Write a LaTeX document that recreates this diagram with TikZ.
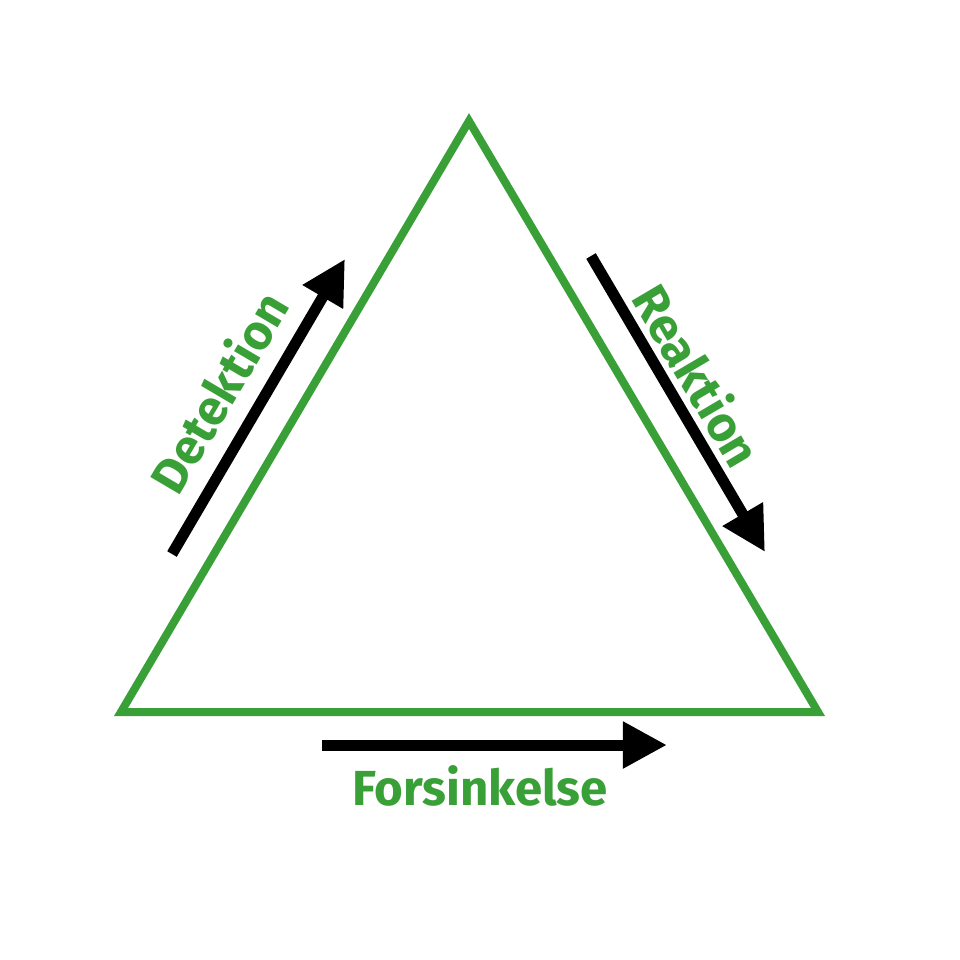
\documentclass[tikz,border=0pt]{standalone}
\usepackage{fontspec}
\setmainfont{Fira Sans}
\usetikzlibrary{arrows.meta}
\definecolor{tgreen}{RGB}{57,159,55}
\begin{document}
\begin{tikzpicture}[x=0.01cm,y=-0.01cm,
  side/.style={draw=tgreen,line width=0.08cm,line join=miter},
  flow/.style={draw=black,line width=0.11cm,-{Triangle[length=0.44cm,width=0.44cm]}},
  lbl/.style={text=tgreen,font=\fontsize{14}{16}\selectfont\bfseries,inner sep=0pt}]
\useasboundingbox[fill=white] (0,0) rectangle (960,960);
\coordinate (top) at (469,121);
\coordinate (bl) at (121,712);
\coordinate (br) at (818,712);
\draw[side] (top) -- (bl) -- (br) -- cycle;
\coordinate (d1) at (172,554);
\coordinate (d2) at (345,259);
\coordinate (r1) at (591,256);
\coordinate (r2) at (765,552);
\coordinate (f1) at (322,745);
\coordinate (f2) at (667,745);
\draw[flow] (d1) -- (d2);
\draw[flow] (r1) -- (r2);
\draw[flow] (f1) -- (f2);
\node[lbl,rotate=59.5] (det) at (218,392) {Detektion};
\node[lbl,rotate=-59.5] (rea) at (698,375) {Reaktion};
\node[lbl] (for) at (480,786) {Forsinkelse};
\end{tikzpicture}
\end{document}
